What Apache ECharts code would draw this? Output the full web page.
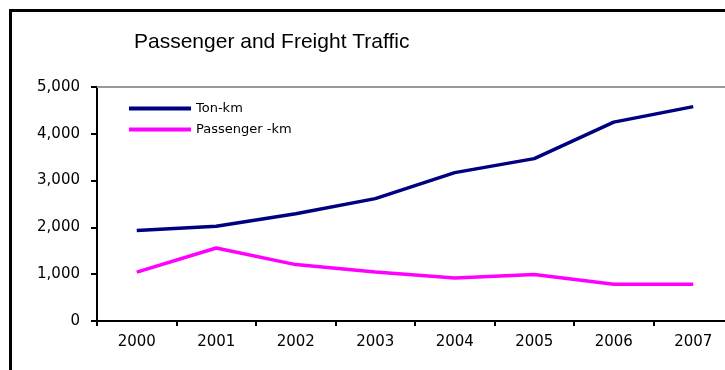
<!DOCTYPE html>
<html>
<head>
<meta charset="utf-8">
<script src="https://cdn.jsdelivr.net/npm/echarts@6/dist/echarts.min.js"></script>
<style>
  html, body { margin: 0; padding: 0; background: #fff; overflow: hidden; }
  #chart { width: 735px; height: 370px; }
</style>
</head>
<body>
<div id="chart"></div>
<script>
const years = ["2000", "2001", "2002", "2003", "2004", "2005", "2006", "2007"];
const tonKm = [1935, 2025, 2290, 2615, 3170, 3470, 4250, 4580];
const passengerKm = [1045, 1560, 1205, 1045, 920, 995, 785, 785];
const yTicks = [0, 1000, 2000, 3000, 4000, 5000];

const chart = echarts.init(document.getElementById("chart"));

const axisFont = {
    fontFamily: "DejaVu Sans",
    fontSize: 15,
    color: "#000",
};

chart.setOption({
    animation: false,
    backgroundColor: "#fff",
    graphic: [{
        type: "rect",
        shape: {x: 10.5, y: 10.5, width: 800, height: 400},
        style: {fill: "none", stroke: "#000", lineWidth: 3},
        silent: true,
    }],
    title: {
        text: "Passenger and Freight Traffic",
        left: 134,
        top: 32,
        padding: 0,
        textStyle: {
            fontFamily: "Liberation Sans",
            fontSize: 21,
            fontWeight: "normal",
            color: "#000",
        },
    },
    legend: {
        orient: "vertical",
        left: 129,
        top: 102,
        padding: 0,
        itemWidth: 62,
        itemHeight: 4,
        itemGap: 8,
        icon: "rect",
        textStyle: {fontFamily: "DejaVu Sans", fontSize: 13, color: "#000"},
        data: ["Ton-km", "Passenger -km"],
    },
    // canvas is a bit wider than the window, so the last category runs past the edge
    grid: {left: 97, right: 2, top: 87, bottom: 49},
    xAxis: [{
        type: "category",
        data: years,
        boundaryGap: true,
        axisLine: {lineStyle: {color: "#000", width: 2}},
        axisTick: {show: true, length: 5, lineStyle: {color: "#000", width: 2}},
        axisLabel: Object.assign({margin: 14}, axisFont),
        splitLine: {show: false},
    }, {
        type: "category",
        data: years,
        position: "top",
        axisLine: {lineStyle: {color: "#999", width: 2}},
        axisTick: {show: false},
        axisLabel: {show: false},
    }],
    yAxis: {
        type: "value",
        min: yTicks[0],
        max: yTicks[yTicks.length - 1],
        interval: 1000,
        axisLine: {show: true, lineStyle: {color: "#000", width: 2}},
        axisTick: {show: true, length: 6, lineStyle: {color: "#000", width: 2}},
        axisLabel: Object.assign({
            margin: 17,
            formatter: (v) => v.toLocaleString("en-US"),
        }, axisFont),
        splitLine: {show: false},
    },
    series: [{
        name: "Ton-km",
        type: "line",
        data: tonKm,
        symbol: "none",
        color: "#000080",
        lineStyle: {color: "#000080", width: 3.5},
    }, {
        name: "Passenger -km",
        type: "line",
        data: passengerKm,
        symbol: "none",
        color: "#FF00FF",
        lineStyle: {color: "#FF00FF", width: 3.5},
    }],
});
</script>
</body>
</html>
